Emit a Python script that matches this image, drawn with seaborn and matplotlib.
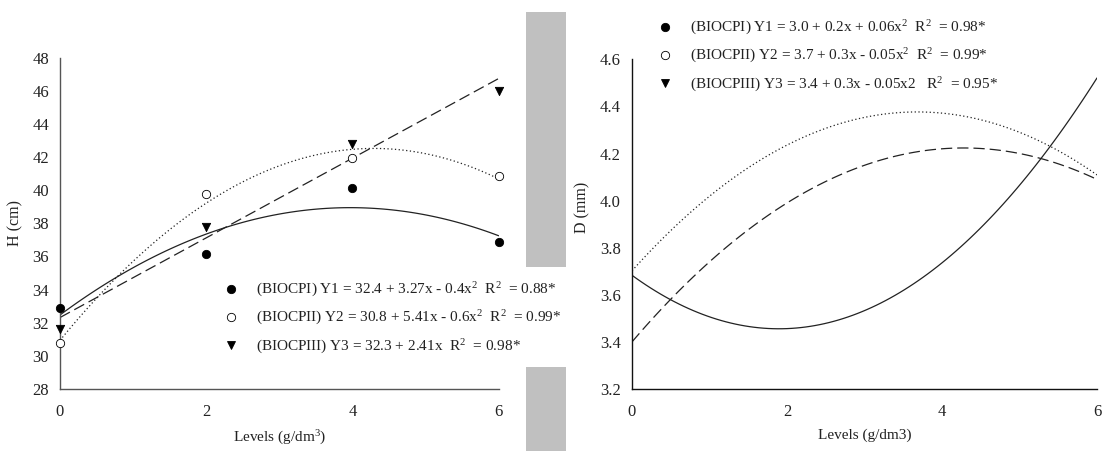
import numpy as np
import pandas as pd
import matplotlib
matplotlib.use('Agg')
import matplotlib.pyplot as plt
from matplotlib.lines import Line2D
from matplotlib.patches import Rectangle
import seaborn as sns

# H (cm) - measured points
levels = [0, 2, 4, 6]
h_biocp1 = [32.87, 36.15, 40.15, 36.85]
h_biocp2 = [30.76, 39.75, 41.94, 40.86]
h_biocp3 = [31.60, 37.78, 42.77, 45.97]
h_orders = [2, 2, 1]

# D (mm) - no points in the figure
d_levels = [0, 1, 2, 3, 4, 5, 6]
d_biocp1 = [3.68, 3.51, 3.46, 3.53, 3.73, 4.07, 4.52]
d_biocp2 = [3.70, 4.02, 4.24, 4.35, 4.37, 4.29, 4.11]
d_biocp3 = [3.40, 3.74, 3.99, 4.15, 4.22, 4.20, 4.09]
d_orders = [2, 2, 2]

h_labels = ['(BIOCPI) Y1 = 32.4 + 3.27x - 0.4x$^2$  R$^2$  = 0.88*',
            '(BIOCPII) Y2 = 30.8 + 5.41x - 0.6x$^2$  R$^2$  = 0.99*',
            '(BIOCPIII) Y3 = 32.3 + 2.41x  R$^2$  = 0.98*']
d_labels = ['(BIOCPI) Y1 = 3.0 + 0.2x + 0.06x$^2$  R$^2$  = 0.98*',
            '(BIOCPII) Y2 = 3.7 + 0.3x - 0.05x$^2$  R$^2$  = 0.99*',
            '(BIOCPIII) Y3 = 3.4 + 0.3x - 0.05x2   R$^2$  = 0.95*']

h_ticks = [28, 30, 32, 34, 36, 38, 40, 42, 44, 46, 48]
d_ticks = [3.2, 3.4, 3.6, 3.8, 4.0, 4.2, 4.4, 4.6]
x_ticks = [0, 2, 4, 6]

markers = ['o', 'o', 'v']
marker_faces = ['black', 'white', 'black']
dash_styles = ['-', (0, (1, 2)), (0, (9, 4))]

sns.set_style('white')
plt.rcParams['font.family'] = ['Liberation Serif', 'DejaVu Serif']
plt.rcParams['mathtext.fontset'] = 'custom'
plt.rcParams['mathtext.rm'] = 'Liberation Serif'
plt.rcParams['mathtext.it'] = 'Liberation Serif:italic'

W, H = 1105, 451
fig = plt.figure(figsize=(W / 100, H / 100), dpi=100)
fig.patch.set_facecolor('white')

# grey strip between the two panels (page background)
for y0, y1 in [(12, 267), (367, 451)]:
    fig.patches.append(Rectangle((526 / W, 1 - y1 / H), 40 / W, (y1 - y0) / H,
                                 transform=fig.transFigure, facecolor='#c0c0c0',
                                 edgecolor='none', zorder=-1))

ax1 = fig.add_axes([60 / W, 1 - 389 / H, 438.7 / W, 331.3 / H])
ax2 = fig.add_axes([632 / W, 1 - 389 / H, 465 / W, 329.7 / H])

df_h = pd.DataFrame({'level': levels, 'Y1': h_biocp1, 'Y2': h_biocp2, 'Y3': h_biocp3})
df_d = pd.DataFrame({'level': d_levels, 'Y1': d_biocp1, 'Y2': d_biocp2, 'Y3': d_biocp3})

for i, col in enumerate(['Y1', 'Y2', 'Y3']):
    sns.regplot(data=df_h, x='level', y=col, order=h_orders[i], ci=None, scatter=False,
                ax=ax1, line_kws=dict(color='#222222', lw=0.9, linestyle=dash_styles[i]))
    ax1.scatter(df_h['level'], df_h[col], marker=markers[i], s=36,
                facecolor=marker_faces[i], edgecolor='black', linewidth=0.6,
                zorder=5, clip_on=False)
    sns.regplot(data=df_d, x='level', y=col, order=d_orders[i], ci=None, scatter=False,
                ax=ax2, line_kws=dict(color='#222222', lw=0.9, linestyle=dash_styles[i]))

def style_axis(ax, yticks, ylabel, xlabel, ylab_x, ylab_y, spine_color):
    ax.set_xlim(0, 6)
    ax.set_ylim(yticks[0], yticks[-1])
    ax.set_xticks(x_ticks)
    ax.set_yticks(yticks)
    for side in ['top', 'right']:
        ax.spines[side].set_visible(False)
    for side in ['left', 'bottom']:
        ax.spines[side].set_color(spine_color)
        ax.spines[side].set_linewidth(1.0)
    ax.tick_params(axis='both', direction='out', length=4, width=1,
                   color=spine_color, labelsize=12, labelcolor='#222222')
    ax.tick_params(axis='x', pad=7)
    ax.tick_params(axis='y', pad=4)
    ax.set_xlabel(xlabel, fontsize=11, color='#222222')
    ax.set_ylabel(ylabel, fontsize=11.5, color='#222222')
    ax.xaxis.set_label_coords(0.5, -0.12)
    ax.yaxis.set_label_coords(ylab_x, ylab_y)

style_axis(ax1, h_ticks, 'H (cm)', 'Levels (g/dm$^3$)', -0.084, 0.5, '#555555')
style_axis(ax2, d_ticks, 'D (mm)', 'Levels (g/dm3)', -0.09, 0.55, '#111111')
ax2.set_yticklabels([f'{t:.1f}' for t in d_ticks])

def legend_handles():
    return [Line2D([], [], marker=markers[i], linestyle='none', markersize=6,
                   markerfacecolor=marker_faces[i], markeredgecolor='black',
                   markeredgewidth=0.6) for i in range(3)]

leg_kw = dict(loc='upper left', bbox_transform=fig.transFigure, frameon=False,
              fontsize=11, handlelength=1.2, handletextpad=1.0,
              labelspacing=0.65, borderpad=0, borderaxespad=0)
leg1 = ax1.legend(legend_handles(), h_labels, bbox_to_anchor=(222 / W, 1 - 281 / H), **leg_kw)
leg2 = ax2.legend(legend_handles(), d_labels, bbox_to_anchor=(656 / W, 1 - 19 / H), **leg_kw)
for leg in (leg1, leg2):
    for t in leg.get_texts():
        t.set_color('#222222')

fig.savefig('out.png', dpi=100, facecolor='white')
